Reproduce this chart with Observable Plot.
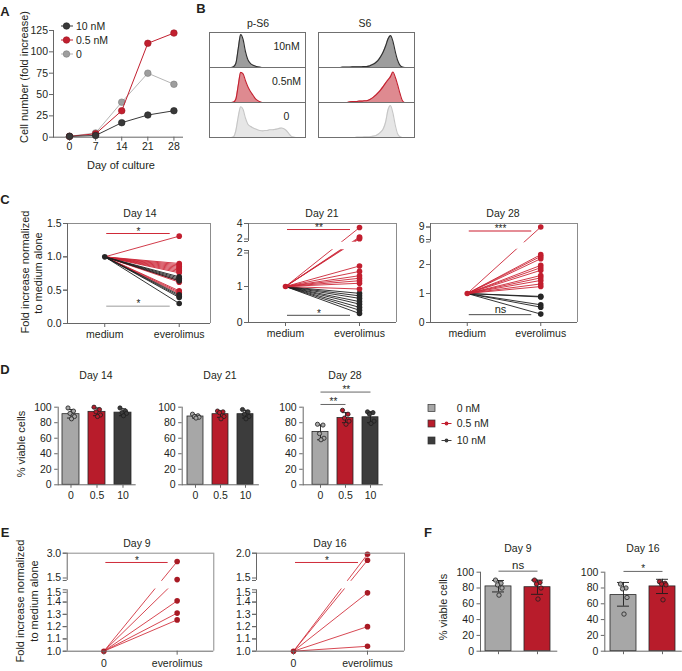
<!DOCTYPE html>
<html><head><meta charset="utf-8">
<script src="https://cdn.jsdelivr.net/npm/d3@7"></script>
<script src="https://cdn.jsdelivr.net/npm/@observablehq/plot@0.6"></script>
<style>
html,body{margin:0;padding:0;background:#fff;overflow:hidden}
#fig{position:relative;width:682px;height:671px;font-family:"Liberation Sans",Arial,sans-serif;color:#231f20;background:#fff}
.p{position:absolute}
</style></head><body><div id="fig"></div>
<script>
// ================= DATA =================
// Panel A
const daysA = [0, 7, 14, 21, 28];
const foldA_10nM = [1, 2, 17, 26, 31];
const foldA_05nM = [1, 4, 31, 110, 122];
const foldA_0 = [1, 5, 41, 75, 62];
const ticksA = [0, 25, 50, 75, 100, 125];

// Panel B (flow histograms, relative density per bin)
const binsB = [0,2.5,5,7.5,10,12.5,15,17.5,20,22.5,25,27.5,30,32.5,35,37.5,40,42.5,45,47.5,50,52.5,55,57.5,60,62.5,65,67.5,70,72.5,75,77.5,80,82.5,85,87.5,90,92.5,95,97.5,100];
const rowsB = ["10nM", "0.5nM", "0"];
const pS6_10 = [0,0,0,0,0,0,0,0,0,0, 0.02,0.12,0.55,0.94,0.8,0.45,0.22,0.12,0.07,0.04, 0.02,0.01,0,0,0,0,0,0,0,0, 0,0,0,0,0,0,0,0,0,0, 0];
const pS6_05 = [0,0,0,0,0,0,0,0,0,0, 0.01,0.1,0.5,0.86,0.82,0.62,0.45,0.32,0.22,0.12, 0.06,0.02,0,0,0,0,0,0,0,0, 0,0,0,0,0,0,0,0,0,0, 0];
const pS6_0 = [0,0,0,0,0,0,0,0,0,0, 0.02,0.2,0.6,0.88,0.8,0.55,0.38,0.32,0.28,0.25, 0.22,0.2,0.19,0.2,0.2,0.22,0.22,0.23,0.24,0.26, 0.27,0.25,0.2,0.12,0.04,0.01,0,0,0,0, 0];
const S6_10 = [0,0,0,0,0,0,0,0,0,0, 0.01,0.01,0.01,0.01,0.02,0.02,0.02,0.02,0.02,0.03, 0.03,0.04,0.07,0.1,0.15,0.22,0.32,0.45,0.62,0.82, 0.91,0.75,0.45,0.2,0.06,0.01,0,0,0,0, 0];
const S6_05 = [0,0,0,0,0,0,0,0,0,0, 0,0,0,0.02,0.03,0.03,0.03,0.04,0.04,0.05, 0.05,0.07,0.11,0.16,0.22,0.29,0.37,0.46,0.56,0.65, 0.74,0.87,0.72,0.5,0.25,0.05,0,0,0,0, 0];
const S6_0 = [0,0,0,0,0,0,0,0,0,0, 0,0,0,0,0,0,0.01,0.01,0.01,0.02, 0.02,0.02,0.03,0.04,0.06,0.1,0.16,0.25,0.45,0.8, 0.91,0.7,0.35,0.1,0.02,0,0,0,0,0, 0];

// Panel C (fold increase normalized to medium alone = 1)
const condC = ["medium", "everolimus"];
const mediumNorm = 1;
const c14_red = [1.31, 0.90, 0.88, 0.86, 0.84, 0.82, 0.80, 0.78, 0.76, 0.64, 0.62, 0.49, 0.47, 0.45];
const c14_black = [0.70, 0.68, 0.66, 0.64, 0.43, 0.41, 0.39, 0.30];
const c21_red = [3.55, 2.5, 2.4, 2.3, 1.57, 1.42, 1.30, 1.23, 1.16, 1.09, 0.93];
const c21_black = [0.81, 0.74, 0.67, 0.58, 0.51, 0.42, 0.34, 0.25];
const c28_red = [9.0, 2.34, 2.28, 2.2, 1.97, 1.89, 1.8, 1.62, 1.54, 1.45, 1.33, 1.24];
const c28_black = [0.9, 0.88, 0.61, 0.53, 0.29];
const sigC14 = [{y: 1.35, label: "*", tone: "red"}, {y: 0.26, label: "*", tone: "gray"}];
const sigC21 = [{y: 3.33, label: "**", tone: "red"}, {y: 0.2, label: "*", tone: "dark"}];
const sigC28 = [{y: 8.2, label: "***", tone: "pink"}, {y: 0.27, label: "ns", tone: "dark"}];

// Panel D (% viable cells)
const concD = ["0", "0.5", "10"];
const d14_mean = [91, 94, 93], d14_lo = [86, 89, 89], d14_hi = [97, 99, 98];
const d14_pts = [[99, 95, 92, 88, 85], [100, 97, 94, 90, 88], [99, 95, 93, 92, 89]];
const d21_mean = [88, 91, 91], d21_lo = [86, 87, 86], d21_hi = [90, 95, 96];
const d21_pts = [[91, 89, 88, 87, 86], [95, 94, 93, 88, 85], [97, 94, 91, 88, 85]];
const d28_mean = [68, 86, 87], d28_lo = [58, 80, 80], d28_hi = [77, 93, 94];
const d28_pts = [[78, 77, 66, 60, 58], [96, 91, 86, 82, 78], [94, 93, 91, 82, 79]];
const sigD28 = [{from: "0", to: "0.5", y: 103.5, label: "**"}, {from: "0", to: "10", y: 119.5, label: "**"}];
const legendD = ["0 nM", "0.5 nM", "10 nM"];

// Panel E
const condE = ["0", "everolimus"];
const e9_vals = [2.54, 1.55, 1.41, 1.31, 1.255];
const e16_vals = [1.98, 1.87, 1.475, 1.2, 1.04];
const sigE9 = [{y: 2.49, label: "*", tone: "red"}];
const sigE16 = [{y: 1.83, label: "*", tone: "red"}];

// Panel F
const catF = ["0", "0.5"];
const f9_mean = [82, 81], f9_lo = [75, 72], f9_hi = [89.5, 90];
const f9_pts = [[90, 86, 84, 80, 71], [90, 87, 85, 80, 66]];
const f16_mean = [71, 82], f16_lo = [57, 73], f16_hi = [87, 91];
const f16_pts = [[85, 80, 79, 68, 47], [88, 86, 85, 84, 65]];
const sigF9 = [{from: "0", to: "0.5", y: 101.3, label: "ns"}];
const sigF16 = [{from: "0", to: "0.5", y: 101, label: "*"}];

// ================= STYLE =================
const RED = "#c21f2f", DARK = "#393939", GRAYBAR = "#a7a7a7", AX = "#666", FRAMEC = "#8c8c8c", TXT = "#231f20";
const LINE_RED = "#cc2535", LINE_BLACK = "#1e1e1e", DOT_RED = "#a81a24";
const TONE = {red: "#cf2a38", gray: "#9c9c9c", dark: "#4a4a4a", pink: "#e58d96"};
const FONT = '"Liberation Sans", Arial, sans-serif';
const baseStyle = {fontFamily: FONT, fontSize: "10.5px", color: TXT, background: "transparent", overflow: "visible"};
const JITTER = [-3, 2.5, -1, 3.5, 0.5];

const fig = document.getElementById("fig");
function place(node, left, top) {
  const d = document.createElement("div");
  d.className = "p"; d.style.left = left + "px"; d.style.top = top + "px";
  d.appendChild(node); fig.appendChild(d);
}
function label(s, x, y, opt = {}) {
  const d = document.createElement("div");
  d.textContent = s;
  d.style.cssText = `position:absolute;left:${x}px;top:${y}px;white-space:nowrap;line-height:1;font-size:${opt.size || 10.5}px;transform:translate(-50%,-50%)${opt.rot ? " rotate(-90deg)" : ""};font-weight:${opt.bold ? "bold" : "normal"};`;
  fig.appendChild(d);
}

// ================= PANEL A =================
const seriesA = [
  {name: "0", values: foldA_0, stroke: "#b5b5b5", fill: "#9e9e9e", edge: "#7a7a7a"},
  {name: "0.5 nM", values: foldA_05nM, stroke: RED, fill: RED, edge: "#9a1822"},
  {name: "10 nM", values: foldA_10nM, stroke: DARK, fill: DARK, edge: "#222"}
];
const plotA = Plot.plot({
  width: 190, height: 172, marginLeft: 53, marginRight: 8, marginTop: 30, marginBottom: 35.3,
  style: baseStyle,
  x: {domain: [-4.3, 30.3]}, y: {domain: [0, 125]},
  marks: [
    Plot.frame({anchor: "left", stroke: AX}),
    Plot.frame({anchor: "bottom", stroke: AX}),
    Plot.axisY({ticks: ticksA, tickSize: 4, tickPadding: 1.5, stroke: AX, label: null}),
    Plot.axisX({ticks: daysA, tickSize: 4, tickPadding: 1.5, stroke: AX, label: null}),
    ...seriesA.flatMap(s => {
      const rows = daysA.map((d, i) => ({day: d, v: s.values[i]}));
      return [
        Plot.line(rows, {x: "day", y: "v", stroke: s.stroke, strokeWidth: 1}),
        Plot.dot(rows, {x: "day", y: "v", r: 3.3, fill: s.fill, stroke: s.edge, strokeWidth: 0.6})
      ];
    })
  ]
});
place(plotA, 0, 0);
{
  const legA = [seriesA[2], seriesA[1], seriesA[0]];
  const svg = d3.create("svg").attr("width", 80).attr("height", 46)
    .style("overflow", "visible").style("font-family", FONT).style("font-size", "10.5px");
  legA.forEach((s, i) => {
    const g = svg.append("g").attr("transform", `translate(0,${6 + i * 14})`);
    g.append("line").attr("x1", 1).attr("x2", 13).attr("stroke", s.stroke).attr("stroke-width", 1);
    g.append("circle").attr("cx", 6.5).attr("r", 3.3).attr("fill", s.fill).attr("stroke", s.edge).attr("stroke-width", 0.6);
    g.append("text").attr("x", 16).attr("dy", "0.35em").attr("fill", TXT).text(s.name);
  });
  place(svg.node(), 60, 20);
}

// ================= PANEL B =================
const histRows = [
  {row: "10nM", pS6: pS6_10, S6: S6_10, fill: "#9d9d9d", stroke: "#2f2f2f"},
  {row: "0.5nM", pS6: pS6_05, S6: S6_05, fill: "#de8a90", stroke: "#c3202f"},
  {row: "0", pS6: pS6_0, S6: S6_0, fill: "#e6e6e6", stroke: "#c6c6c6"}
];
function histPlot(side, showLabels) {
  const marks = [];
  for (const h of histRows) {
    const pts = binsB.map((x, i) => ({x, v: h[side][i], row: h.row}));
    marks.push(Plot.areaY(pts, {x: "x", y: "v", fy: "row", fill: h.fill, curve: "monotone-x"}));
    marks.push(Plot.lineY(pts, {x: "x", y: "v", fy: "row", stroke: h.stroke, strokeWidth: 1.1, curve: "monotone-x"}));
  }
  marks.push(Plot.frame({stroke: "#707070"}));
  if (showLabels) marks.push(Plot.text(rowsB, {fy: d => d, text: d => d, frameAnchor: "right", textAnchor: "middle", dx: -19, dy: -3, fontSize: 10.5, fill: TXT}));
  return Plot.plot({
    width: 98, height: 109, margin: 1, style: baseStyle,
    x: {domain: [0, 100], axis: null}, y: {domain: [0, 1], axis: null},
    fy: {domain: rowsB, padding: 0, axis: null},
    marks
  });
}
place(histPlot("pS6", true), 208, 30);
place(histPlot("S6", false), 317, 30);

// ================= PAIRED PLOTS (C, E) with broken y axis =================
// Values are mapped onto a display coordinate (pixels above the axis floor),
// one linear segment per axis piece; the Plot y scale is linear over that coordinate.
function pairPlot(o) {
  const {width, height, marginLeft, marginRight, marginTop, marginBottom, xDomain, segs, gap = 0,
    groups, base, baseFill, sig, xLabels, fmt, xTickPadding = 3} = o;
  const total = height - marginTop - marginBottom;
  const broken = segs.length > 1;
  const pxL = broken ? segs[0].px : total;
  const pxU = total - pxL - gap;
  const segStart = [0, pxL + gap];
  const segLen = [pxL, pxU];
  const pos = (v, k) => segStart[k] + (v - segs[k].domain[0]) / (segs[k].domain[1] - segs[k].domain[0]) * segLen[k];
  const f = v => (!broken || v <= segs[0].domain[1]) ? pos(v, 0) : pos(v, 1);
  // tick labels; the two labels next to the break are nudged apart
  const tickData = segs.flatMap((s, k) => s.ticks.map(t => ({t, p: pos(t, k),
    nudge: !broken ? 0 : (k === 0 && t === s.domain[1]) ? 2.5 : (k === 1 && t === s.domain[0]) ? -2.5 : 0})));
  const segEnds = segs.map((s, k) => [pos(s.domain[0], k), pos(s.domain[1], k)]);
  const marks = [];
  for (const g of groups) {
    const rows = g.values.map(v => ({v}));
    marks.push(Plot.link(rows, {x1: 0, y1: f(base), x2: 1, y2: d => f(d.v), stroke: g.stroke, strokeWidth: 0.9}));
  }
  if (broken) marks.push(Plot.rect([segEnds], {x1: xDomain[0], x2: xDomain[1], y1: d => d[0][1] + 0.8, y2: d => d[1][0] - 0.8, fill: "white"}));
  for (const g of groups) {
    const rows = g.values.map(v => ({v}));
    marks.push(Plot.dot(rows, {x: 1, y: d => f(d.v), r: 2.8, fill: g.fill}));
  }
  marks.push(Plot.dot([base], {x: 0, y: d => f(d), r: 2.8, fill: baseFill}));
  marks.push(
    Plot.ruleY([total], {stroke: FRAMEC}),
    Plot.ruleX([xDomain[1]], {stroke: FRAMEC}),
    Plot.ruleY([0], {stroke: AX}),
    Plot.ruleX(segEnds, {x: xDomain[0], y1: d => d[0], y2: d => d[1], stroke: AX}),
    Plot.axisY(tickData, {y: "p", text: null, tickSize: 4, stroke: AX, label: null}),
    ...[2.5, 0, -2.5].map(n => Plot.axisY(tickData.filter(d => d.nudge === n), {y: "p", text: d => fmt(d.t), tickSize: 4, tickPadding: 2, dy: n, stroke: AX, label: null})),
    Plot.axisX({ticks: [0, 1], tickFormat: i => xLabels[i], tickSize: 4, tickPadding: xTickPadding, stroke: AX, label: null})
  );
  for (const s of sig) {
    marks.push(Plot.ruleY([s], {y: d => f(d.y), x1: 0, x2: 1, insetLeft: 2, insetRight: 9, stroke: TONE[s.tone], strokeWidth: s.tone === "pink" ? 2 : 1}));
    const isNs = s.label === "ns";
    marks.push(Plot.text([s], {x: 0.5, y: d => f(d.y), text: "label", dx: -3.5, dy: isNs ? -5 : -2, fontSize: isNs ? 11 : 10, fill: TXT}));
  }
  return Plot.plot({
    width, height, marginLeft, marginRight, marginTop, marginBottom, style: baseStyle,
    x: {domain: xDomain}, y: {domain: [0, total]},
    marks
  });
}
const fmt1 = d => d3.format(".1f")(d);
const fmt0 = d => d3.format("d")(d);
const redGroup = v => ({values: v, stroke: LINE_RED, fill: RED});
const blackGroup = v => ({values: v, stroke: LINE_BLACK, fill: "#262626"});

place(pairPlot({
  width: 183, height: 150, marginLeft: 37, marginRight: 3, marginTop: 28, marginBottom: 22,
  xDomain: [-0.5, 1.42], segs: [{domain: [0, 1.5], ticks: [0, 0.5, 1, 1.5]}],
  groups: [redGroup(c14_red), blackGroup(c14_black)], base: mediumNorm, baseFill: "#262626",
  sig: sigC14, xLabels: condC, fmt: fmt1
}), 30, 195);
place(pairPlot({
  width: 184, height: 149, marginLeft: 33, marginRight: 3, marginTop: 28, marginBottom: 22,
  xDomain: [-0.5, 1.5], segs: [{domain: [0, 2], ticks: [0, 1, 2], px: 72}, {domain: [2, 4], ticks: [2, 4]}], gap: 9,
  groups: [blackGroup(c21_black), redGroup(c21_red)], base: mediumNorm, baseFill: RED,
  sig: sigC21, xLabels: condC, fmt: fmt0
}), 215, 195);
place(pairPlot({
  width: 180, height: 149, marginLeft: 30, marginRight: 3, marginTop: 28, marginBottom: 22,
  xDomain: [-0.5, 1.5], segs: [{domain: [0, 2.5], ticks: [0, 1, 2], px: 72.5}, {domain: [6, 9.7], ticks: [6, 9]}], gap: 8,
  groups: [blackGroup(c28_black), redGroup(c28_red)], base: mediumNorm, baseFill: RED,
  sig: sigC28, xLabels: condC, fmt: fmt0
}), 400, 195);

// E
const eGroup = v => ({values: v, stroke: "#d3333f", fill: DOT_RED});
place(pairPlot({
  width: 186.3, height: 140.7, marginLeft: 36.7, marginRight: 3, marginTop: 22.7, marginBottom: 20,
  xDomain: [-0.5, 1.5], segs: [{domain: [1.0, 1.5], ticks: [1.0, 1.1, 1.2, 1.3, 1.4, 1.5], px: 61.4}, {domain: [1.5, 3.0], ticks: [1.5, 3.0]}], gap: 9.3,
  groups: [eGroup(e9_vals)], base: mediumNorm, baseFill: DOT_RED,
  sig: sigE9, xLabels: condE, fmt: fmt1, xTickPadding: 4.5
}), 30, 530);
place(pairPlot({
  width: 187, height: 140.7, marginLeft: 36, marginRight: 3, marginTop: 22.7, marginBottom: 20,
  xDomain: [-0.5, 1.5], segs: [{domain: [1.0, 1.5], ticks: [1.0, 1.1, 1.2, 1.3, 1.4, 1.5], px: 61.4}, {domain: [1.5, 2.0], ticks: [1.5, 2.0]}], gap: 9.3,
  groups: [eGroup(e16_vals)], base: mediumNorm, baseFill: DOT_RED,
  sig: sigE16, xLabels: condE, fmt: fmt1, xTickPadding: 4.5
}), 220, 530);

// ================= BAR PLOTS (D, F) =================
function barPlot(o) {
  const {cats, fills, means, lo, hi, pts, sig = [], width, height, marginLeft, marginRight, marginTop, marginBottom,
    padInner, padOuter, align = 0.5, showXLabels = true, capInset, dotR = 2.1} = o;
  const step = (width - marginLeft - marginRight) / (cats.length - padInner + 2 * padOuter);
  const bars = cats.map((c, i) => ({c, m: means[i], lo: lo[i], hi: hi[i], fill: fills[i]}));
  const dots = cats.flatMap((c, i) => pts[i].map((v, k) => ({c, v, k, fill: fills[i]})));
  const marks = [
    Plot.barY(bars, {x: "c", y: "m", fill: "fill", stroke: "#262626", strokeWidth: 0.8}),
    Plot.ruleX(bars, {x: "c", y1: "lo", y2: "hi", stroke: "#1c1c1c", strokeWidth: 0.9}),
    Plot.tickY(bars, {x: "c", y: "lo", insetLeft: capInset, insetRight: capInset, stroke: "#1c1c1c", strokeWidth: 0.9}),
    Plot.tickY(bars, {x: "c", y: "hi", insetLeft: capInset, insetRight: capInset, stroke: "#1c1c1c", strokeWidth: 0.9}),
    ...JITTER.map((dx, k) => Plot.dot(dots.filter(d => d.k === k), {x: "c", y: "v", dx, r: dotR, fill: "fill", stroke: "#1f1f1f", strokeWidth: 0.8})),
    Plot.ruleY([0], {stroke: AX}),
    Plot.frame({anchor: "left", stroke: AX}),
    Plot.axisY({ticks: [0, 20, 40, 60, 80, 100], tickSize: 3.5, tickPadding: 3, stroke: AX, label: null}),
    Plot.axisX({tickSize: 3.5, tickPadding: 3, stroke: AX, label: null, tickFormat: showXLabels ? (d => d) : (() => "")})
  ];
  for (const s of sig) {
    marks.push(Plot.link([s], {x1: "from", x2: "to", y1: "y", y2: "y", stroke: "#555", strokeWidth: 0.9}));
    const isNs = s.label === "ns";
    marks.push(Plot.text([s], {x: "from", y: "y", text: "label", dx: (cats.indexOf(s.to) - cats.indexOf(s.from)) * step / 2, dy: isNs ? -6 : -2.5, fontSize: isNs ? 11.5 : 10, fill: TXT}));
  }
  return Plot.plot({
    width, height, marginLeft, marginRight, marginTop, marginBottom, style: baseStyle,
    x: {domain: cats, paddingInner: padInner, paddingOuter: padOuter, align},
    y: {domain: [0, 100]},
    color: {type: "identity"},
    marks
  });
}
const fillsD = [GRAYBAR, "#b81c2b", "#3c3c3c"];
place(barPlot({cats: concD, fills: fillsD, means: d14_mean, lo: d14_lo, hi: d14_hi, pts: d14_pts,
  width: 113.7, height: 126.3, marginLeft: 32.7, marginRight: 3, marginTop: 26.7, marginBottom: 22,
  padInner: 0.347, padOuter: 0.145, align: 0.45, capInset: 5}), 25, 380);
place(barPlot({cats: concD, fills: fillsD, means: d21_mean, lo: d21_lo, hi: d21_hi, pts: d21_pts,
  width: 111.9, height: 126.3, marginLeft: 31.7, marginRight: 3, marginTop: 26.7, marginBottom: 22,
  padInner: 0.347, padOuter: 0.17, align: 0.5, capInset: 5}), 150, 380);
place(barPlot({cats: concD, fills: fillsD, means: d28_mean, lo: d28_lo, hi: d28_hi, pts: d28_pts, sig: sigD28,
  width: 115.8, height: 126.3, marginLeft: 32.7, marginRight: 3, marginTop: 26.7, marginBottom: 22,
  padInner: 0.347, padOuter: 0.225, align: 0.7, capInset: 5}), 270, 380);

const fillsF = [GRAYBAR, "#b81c2b"];
place(barPlot({cats: catF, fills: fillsF, means: f9_mean, lo: f9_lo, hi: f9_hi, pts: f9_pts, sig: sigF9,
  width: 105.3, height: 113.7, marginLeft: 25, marginRight: 3, marginTop: 16.7, marginBottom: 18,
  padInner: 0.322, padOuter: 0.143, align: 0.44, showXLabels: false, capInset: 7, dotR: 2.2}), 455, 555);
place(barPlot({cats: catF, fills: fillsF, means: f16_mean, lo: f16_lo, hi: f16_hi, pts: f16_pts, sig: sigF16,
  width: 101.8, height: 113.7, marginLeft: 24.3, marginRight: 0, marginTop: 16.7, marginBottom: 18,
  padInner: 0.322, padOuter: 0.148, align: 0.49, showXLabels: false, capInset: 7, dotR: 2.2}), 580, 555);

// Legend D
{
  const items = [
    {name: legendD[0], fill: GRAYBAR, marker: false},
    {name: legendD[1], fill: "#b81c2b", marker: true, line: RED},
    {name: legendD[2], fill: "#3c3c3c", marker: true, line: "#3c3c3c"}
  ];
  const svg = d3.create("svg").attr("width", 80).attr("height", 50)
    .style("overflow", "visible").style("font-family", FONT).style("font-size", "10.5px");
  const ys = [10, 25.5, 42.5];
  items.forEach((it, i) => {
    const g = svg.append("g").attr("transform", `translate(0,${ys[i]})`);
    g.append("rect").attr("x", 3).attr("y", -3.5).attr("width", 7).attr("height", 7).attr("fill", it.fill).attr("stroke", "#333").attr("stroke-width", 0.7);
    if (it.marker) {
      g.append("line").attr("x1", 16.5).attr("x2", 26.5).attr("stroke", it.line).attr("stroke-width", 1);
      g.append("circle").attr("cx", 21.5).attr("r", 1.9).attr("fill", it.line);
    }
    g.append("text").attr("x", 31.7).attr("dy", "0.35em").attr("fill", TXT).text(it.name);
  });
  place(svg.node(), 425, 398);
}

// ================= TEXT LABELS =================
label("A", 5, 11, {bold: true, size: 13});
label("B", 201, 8, {bold: true, size: 13});
label("C", 5, 199, {bold: true, size: 13});
label("D", 5, 369, {bold: true, size: 13});
label("E", 5, 532, {bold: true, size: 13});
label("F", 428, 532, {bold: true, size: 13});

label("Cell number (fold increase)", 24, 77, {rot: true, size: 11});
label("Day of culture", 121, 165, {size: 11});
label("p-S6", 258, 23);
label("S6", 365, 23);

label("Day 14", 140, 213);
label("Day 21", 322, 213);
label("Day 28", 503, 213);
label("Fold increase normalized", 25, 272, {rot: true, size: 11});
label("to medium alone", 38, 273, {rot: true, size: 11});

label("Day 14", 96, 375);
label("Day 21", 220, 375);
label("Day 28", 345, 375);
label("% viable cells", 21, 444, {rot: true, size: 11});

label("Day 9", 137, 543);
label("Day 16", 330, 543);
label("Fold increase normalized", 20, 601, {rot: true, size: 11});
label("to medium alone", 33.5, 601, {rot: true, size: 11});

label("Day 9", 518, 548);
label("Day 16", 643, 548);
label("% viable cells", 443, 607, {rot: true, size: 11});
</script></body></html>
